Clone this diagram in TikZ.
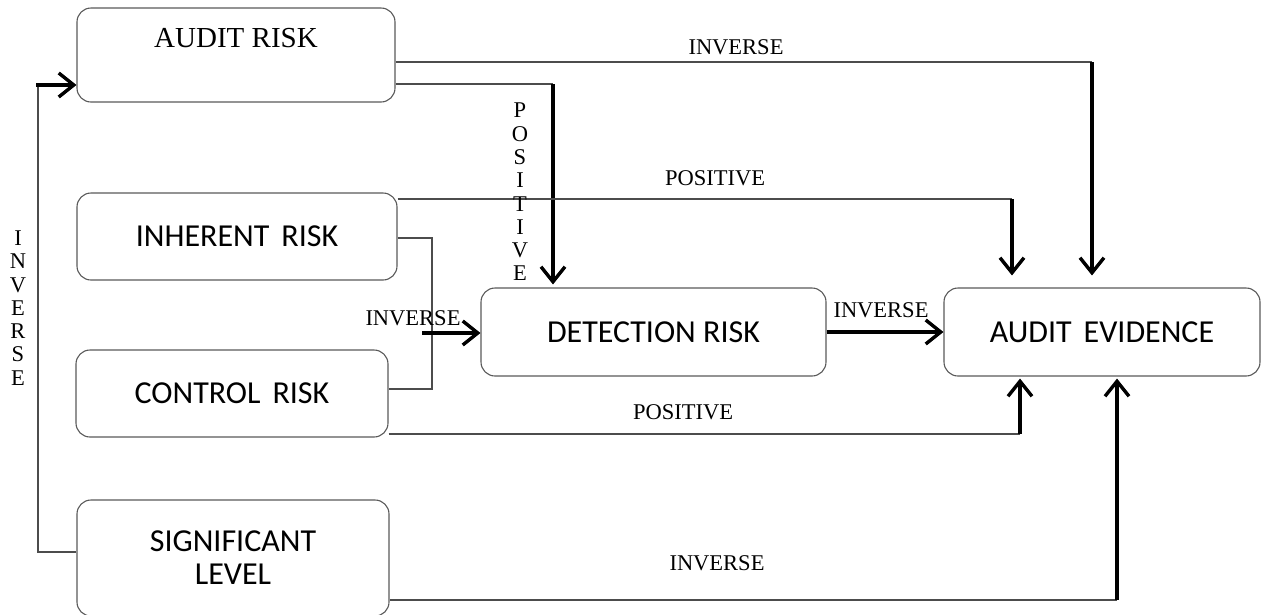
\documentclass[tikz,border=0pt]{standalone}
\usepackage{fontspec}
\setmainfont{Liberation Serif}
\newfontfamily\calib{Carlito}
\usetikzlibrary{arrows.meta}
\begin{document}
\begin{tikzpicture}[x=1pt,y=-1pt,
  box/.style={draw=black!65, line width=1.1pt, rounded corners=14pt, inner sep=0pt},
  link/.style={draw=black!70, line width=1.1pt},
  arr/.style={line width=3.4pt, -{Straight Barb[length=15pt,width=24pt]}},
  lbl/.style={font=\fontsize{22.5}{23.3}\selectfont, inner sep=0pt},
  sans/.style={font=\calib\fontsize{32}{33}\selectfont}]
\useasboundingbox (0,0) rectangle (1261,614);
% boxes
\node[box, minimum width=318pt, minimum height=94pt] (ar) at (236,55) {};
\node[font=\fontsize{29}{30}\selectfont, inner sep=0pt] (art) at (236,38) {AUDIT RISK};
\node[box, sans, minimum width=320pt, minimum height=87pt] (ir) at (237,236.5) {INHERENT\hspace{12pt}RISK};
\node[box, sans, minimum width=312pt, minimum height=87pt] (cr) at (232,393.5) {CONTROL\hspace{12pt}RISK};
\node[box, sans, minimum width=312pt, minimum height=116pt, align=center] (sl) at (233,558) {SIGNIFICANT\\LEVEL};
\node[box, sans, minimum width=345pt, minimum height=88pt] (dr) at (653.5,332) {DETECTION RISK\hspace{20pt}};
\node[box, sans, minimum width=316pt, minimum height=88pt] (ae) at (1102,332) {AUDIT\hspace{12pt}EVIDENCE\hspace{10pt}};
% coordinates
\coordinate (c1) at (38,85);
\coordinate (c2) at (1092,62);
\coordinate (c3) at (553,84);
\coordinate (c4) at (1012,199);
\coordinate (c5) at (432,238);
\coordinate (c6) at (432,389);
\coordinate (c7) at (422,333);
\coordinate (c8) at (1020,434);
\coordinate (c9) at (1117,600);
% connectors
\draw[link] ([yshift=6pt]sl.west) -| (c1);
\draw[arr] ([xshift=-2pt]c1) -- (ar.west |- c1);
\draw[link] (ar.east |- c2) -- (c2);
\draw[arr] (c2) -- ([yshift=12pt]c2 |- ae.north);
\draw[link] (ar.east |- c3) -- (c3);
\draw[arr] (c3) -- ([yshift=3pt]c3 |- dr.north);
\draw[link] (ir.east |- c4) -- (c4);
\draw[arr] (c4) -- ([yshift=12pt]c4 |- ae.north);
\draw[link] (ir.east |- c5) -- (c5) -- (c6) -- (cr.east |- c6);
\draw[arr] (c7) -- (dr.west |- c7);
\draw[arr] (dr.east) -- (ae.west);
\draw[link] (cr.east |- c8) -- (c8);
\draw[arr] (c8) -- ([yshift=-2pt]c8 |- ae.south);
\draw[link] (sl.east |- c9) -- (c9);
\draw[arr] (c9) -- ([yshift=-2pt]c9 |- ae.south);
% labels
\node[lbl] (l1) at (736,47) {INVERSE};
\node[lbl] (l2) at (715,178) {POSITIVE};
\node[lbl] (l3) at (683,412) {POSITIVE};
\node[lbl] (l4) at (717,563) {INVERSE};
\node[lbl] (l5) at (413,318) {INVERSE};
\node[lbl] (l6) at (881,310) {INVERSE};
\node[lbl, align=center] (l7) at (520,192) {P\\O\\S\\I\\T\\I\\V\\E};
\node[lbl, align=center] (l8) at (18,308) {I\\N\\V\\E\\R\\S\\E};
\end{tikzpicture}
\end{document}
